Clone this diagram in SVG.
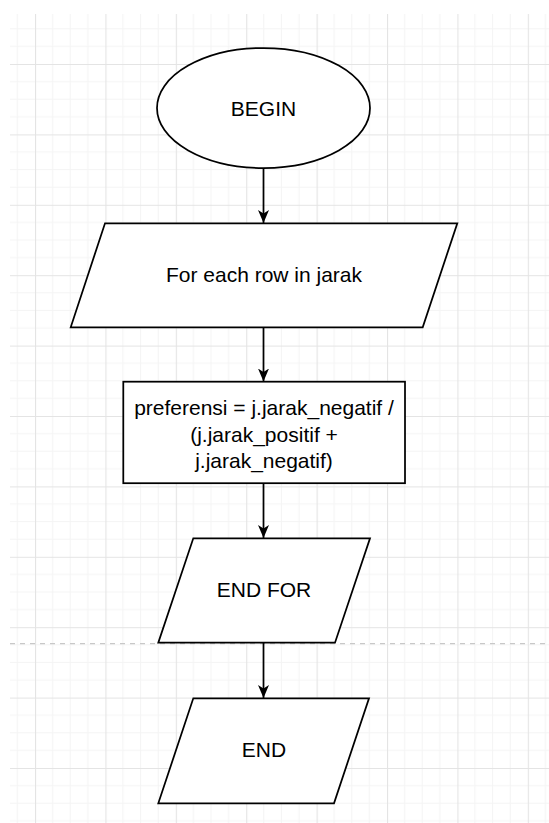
<svg xmlns="http://www.w3.org/2000/svg" width="549" height="823" viewBox="0 0 549 823">
  <defs>
    <pattern id="grid" patternUnits="userSpaceOnUse" x="35" y="64" width="70.4" height="70.4">
      <g stroke="#f4f4f4" stroke-width="1">
        <line x1="17.6" y1="0" x2="17.6" y2="70.4"/>
        <line x1="35.2" y1="0" x2="35.2" y2="70.4"/>
        <line x1="52.8" y1="0" x2="52.8" y2="70.4"/>
        <line x1="0" y1="17.6" x2="70.4" y2="17.6"/>
        <line x1="0" y1="35.2" x2="70.4" y2="35.2"/>
        <line x1="0" y1="52.8" x2="70.4" y2="52.8"/>
      </g>
      <g stroke="#e4e4e4" stroke-width="1.2">
        <line x1="0.5" y1="0" x2="0.5" y2="70.4"/>
        <line x1="0" y1="0.5" x2="70.4" y2="0.5"/>
      </g>
    </pattern>
    <marker id="arrow" markerUnits="userSpaceOnUse" viewBox="0 0 13 11" refX="13" refY="5.5" markerWidth="13" markerHeight="11" orient="auto">
      <path d="M0,0 L13,5.5 L0,11 L3.5,5.5 Z" fill="#000"/>
    </marker>
  </defs>
  <style>
    .shape { fill: #ffffff; stroke: #000000; stroke-width: 1.75; }
    .label { font-family: "Liberation Sans", Arial, sans-serif; font-size: 21px; fill: #000000; text-anchor: middle; }
    .edge { fill: none; stroke: #000000; stroke-width: 1.75; marker-end: url(#arrow); }
  </style>

  <!-- canvas background with grid -->
  <rect x="0" y="0" width="549" height="823" fill="#ffffff"/>
  <rect x="10" y="14" width="539" height="809" fill="url(#grid)"/>

  <!-- page break line -->
  <line x1="10" y1="643.7" x2="549" y2="643.7" stroke="#c8c8c8" stroke-width="1.2" stroke-dasharray="5,5"/>

  <g id="connectors">
    <line class="edge" x1="263.5" y1="168" x2="263.5" y2="223"/>
    <line class="edge" x1="263.5" y1="327" x2="263.5" y2="381.5"/>
    <line class="edge" x1="263.5" y1="483" x2="263.5" y2="538"/>
    <line class="edge" x1="263.5" y1="643" x2="263.5" y2="698"/>
  </g>

  <g id="begin">
    <ellipse class="shape" cx="263.5" cy="108" rx="106.5" ry="60"/>
    <text class="label" x="263.5" y="115.5">BEGIN</text>
  </g>

  <g id="loop-start">
    <polygon class="shape" points="105,223.3 457.3,223.3 422.7,327.3 70.7,327.3"/>
    <text class="label" x="264" y="282">For each row in jarak</text>
  </g>

  <g id="compute">
    <rect class="shape" x="123.3" y="381.7" width="281.7" height="101.5"/>
    <text class="label" x="264" y="415">preferensi = j.jarak_negatif /</text>
    <text class="label" x="264" y="441.5">(j.jarak_positif +</text>
    <text class="label" x="264" y="468">j.jarak_negatif)</text>
  </g>

  <g id="loop-end">
    <polygon class="shape" points="193.3,538.3 370,538.3 335,642.7 158.3,642.7"/>
    <text class="label" x="264" y="597">END FOR</text>
  </g>

  <g id="end">
    <polygon class="shape" points="193.3,698.3 369,698.3 334,803.3 158.3,803.3"/>
    <text class="label" x="264" y="757">END</text>
  </g>
</svg>
